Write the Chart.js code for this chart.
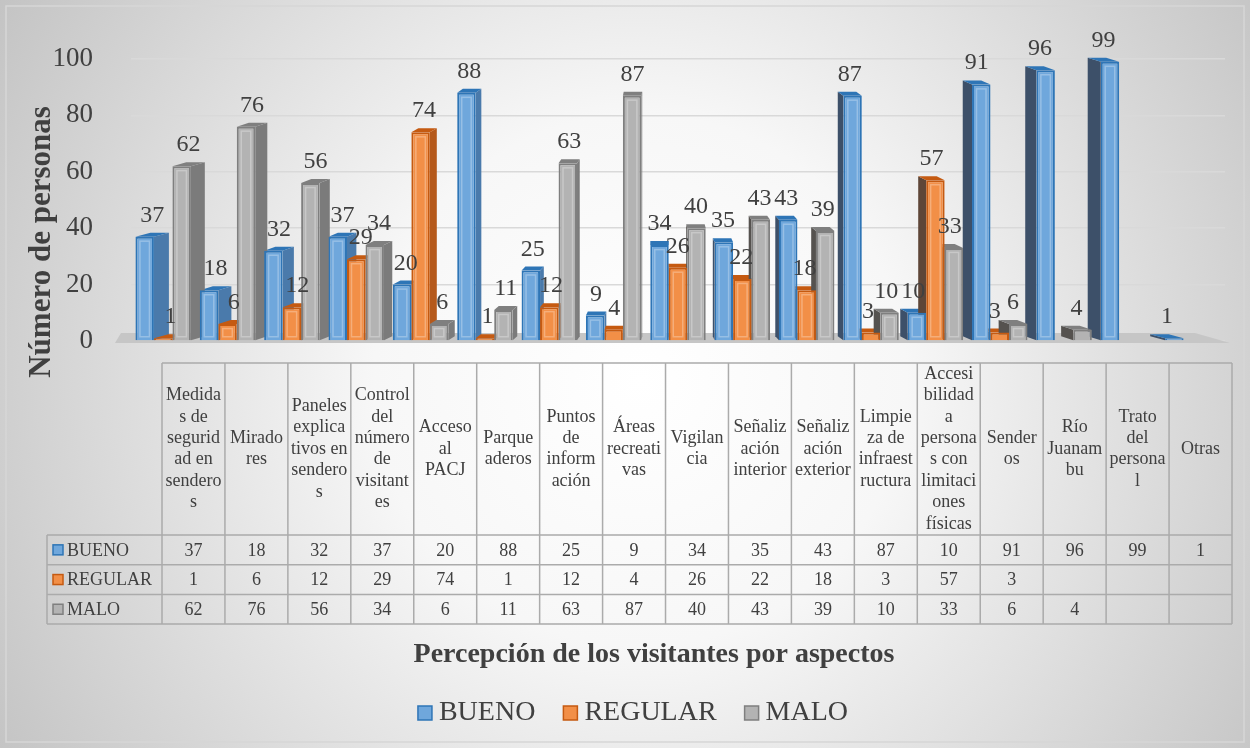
<!DOCTYPE html>
<html>
<head>
<meta charset="utf-8">
<title>Percepción de los visitantes</title>
<script src="https://cdn.jsdelivr.net/npm/chart.js@4"></script>
<style>
  body { margin: 0; background: #fff; }
  canvas { display: block; }
</style>
</head>
<body>
<canvas id="myChart" width="1250" height="748"></canvas>
<script>
// datos
const categorias = ['Medidas de seguridad en senderos', 'Miradores', 'Paneles explicativos en senderos',
  'Control del número de visitantes', 'Acceso al PACJ', 'Parqueaderos', 'Puntos de información',
  'Áreas recreativas', 'Vigilancia', 'Señalización interior', 'Señalización exterior',
  'Limpieza de infraestructura', 'Accesibilidad a personas con limitaciones físicas', 'Senderos',
  'Río Juanambu', 'Trato del personal', 'Otras'];
// como aparecen partidas en la tabla
const lineasEncabezado = [
  ['Medida', 's de', 'segurid', 'ad en', 'sendero', 's'],
  ['Mirado', 'res'],
  ['Paneles', 'explica', 'tivos en', 'sendero', 's'],
  ['Control', 'del', 'número', 'de', 'visitant', 'es'],
  ['Acceso', 'al', 'PACJ'],
  ['Parque', 'aderos'],
  ['Puntos', 'de', 'inform', 'ación'],
  ['Áreas', 'recreati', 'vas'],
  ['Vigilan', 'cia'],
  ['Señaliz', 'ación', 'interior'],
  ['Señaliz', 'ación', 'exterior'],
  ['Limpie', 'za de', 'infraest', 'ructura'],
  ['Accesi', 'bilidad', 'a', 'persona', 's con', 'limitaci', 'ones', 'físicas'],
  ['Sender', 'os'],
  ['Río', 'Juanam', 'bu'],
  ['Trato', 'del', 'persona', 'l'],
  ['Otras']
];
const bueno = [37, 18, 32, 37, 20, 88, 25, 9, 34, 35, 43, 87, 10, 91, 96, 99, 1];
const regular = [1, 6, 12, 29, 74, 1, 12, 4, 26, 22, 18, 3, 57, 3, null, null, null];
const malo = [62, 76, 56, 34, 6, 11, 63, 87, 40, 43, 39, 10, 33, 6, 4, null, null];
const series = ['BUENO', 'REGULAR', 'MALO'];
const yMax = 100;
const yPaso = 20;

const frente = ['#6fa7dc', '#f28f47', '#b3b3b3'];
const borde = ['#2e75b6', '#c55a11', '#7f7f7f'];
const ladoDer = ['#4a7aab', '#b5591b', '#7b7b7b'];
const ladoIzq = ['#3d5069', '#5e4638', '#55524f'];
const SERIF = '"Liberation Serif", "Times New Roman", serif';
const TEXTO = '#404040';

function profundidad(x) {
    return (661 - x) * 0.029;
}

const fondo = {
    id: 'fondo',
    beforeDraw(chart) {
        const ctx = chart.ctx;
        const g = ctx.createRadialGradient(640, 380, 0, 640, 380, 760);
        g.addColorStop(0, '#ffffff');
        g.addColorStop(0.35, '#f7f7f7');
        g.addColorStop(1, '#c2c2c2');
        ctx.save();
        ctx.fillStyle = g;
        ctx.fillRect(0, 0, chart.width, chart.height);
        ctx.strokeStyle = '#d6d6d6';
        ctx.lineWidth = 1.5;
        ctx.strokeRect(6, 6, chart.width - 12, chart.height - 12);
        ctx.restore();
    }
};

function poly(ctx, pts, color) {
    ctx.beginPath();
    ctx.moveTo(pts[0][0], pts[0][1]);
    for (let i = 1; i < pts.length; i++) ctx.lineTo(pts[i][0], pts[i][1]);
    ctx.closePath();
    ctx.fillStyle = color;
    ctx.fill();
}

// piso y caras laterales (detras de las caras frontales)
const volumen = {
    id: 'volumen',
    beforeDatasetsDraw(chart) {
        const ctx = chart.ctx;
        const a = chart.chartArea;
        const y0 = chart.scales.y.getPixelForValue(0);
        ctx.save();
        poly(ctx, [[a.left - 16, y0 + 2], [a.right + 5, y0 + 2], [a.right - 30, y0 - 8], [a.left - 10, y0 - 8]], '#c6c6c6');
        const t = 4;
        chart.data.datasets.forEach((ds, di) => {
            chart.getDatasetMeta(di).data.forEach((el, i) => {
                if (ds.data[i] == null) return;
                const x0 = el.x - el.width / 2, x1 = el.x + el.width / 2;
                const d = profundidad(el.x);
                const top = el.y, base = el.base;
                if (d > 0) {
                    poly(ctx, [[x1, top], [x1 + d, top - t], [x1 + d, base - t], [x1, base]], ladoDer[di]);
                } else {
                    poly(ctx, [[x0, top], [x0 + d, top - t], [x0 + d, base - t], [x0, base]], ladoIzq[di]);
                }
                poly(ctx, [[x0, top], [x1, top], [x1 + d, top - t], [x0 + d, top - t]], borde[di]);
            });
        });
        ctx.restore();
    },
    afterDatasetsDraw(chart) {
        const ctx = chart.ctx;
        ctx.save();
        // brillo interior de la cara frontal
        ctx.strokeStyle = 'rgba(255,255,255,0.28)';
        ctx.lineWidth = 1.5;
        chart.data.datasets.forEach((ds, di) => {
            chart.getDatasetMeta(di).data.forEach((el, i) => {
                if (ds.data[i] == null || el.base - el.y < 12) return;
                ctx.strokeRect(el.x - el.width / 2 + 4.5, el.y + 4.5, el.width - 9, el.base - el.y - 8);
            });
        });
        ctx.font = '24px ' + SERIF;
        ctx.fillStyle = TEXTO;
        ctx.textAlign = 'center';
        ctx.textBaseline = 'alphabetic';
        chart.data.datasets.forEach((ds, di) => {
            chart.getDatasetMeta(di).data.forEach((el, i) => {
                if (ds.data[i] == null) return;
                const d = profundidad(el.x);
                ctx.fillText(String(ds.data[i]), el.x + d / 2, el.y - 15);
            });
        });
        ctx.restore();
    }
};

function clave(ctx, x, y, s, di) {
    ctx.fillStyle = frente[di];
    ctx.fillRect(x, y, s, s);
    ctx.strokeStyle = borde[di];
    ctx.lineWidth = 1.5;
    ctx.strokeRect(x, y, s, s);
}

// tabla de datos, titulos y leyenda
const tabla = {
    id: 'tabla',
    afterDraw(chart) {
        const ctx = chart.ctx;
        const a = chart.chartArea;
        const n = categorias.length;
        const tx0 = a.left + 31, tx1 = a.right + 7, hx = 47;
        const cw = (tx1 - tx0) / n;
        const top = 363, hb = 535, rh = 29.7;
        const bottom = hb + rh * 3;
        ctx.save();
        ctx.strokeStyle = '#ababab';
        ctx.lineWidth = 1.5;
        ctx.beginPath();
        ctx.moveTo(tx0, top); ctx.lineTo(tx1, top);
        for (let r = 0; r <= 3; r++) {
            ctx.moveTo(hx, hb + r * rh); ctx.lineTo(tx1, hb + r * rh);
        }
        ctx.moveTo(hx, hb); ctx.lineTo(hx, bottom);
        for (let c = 0; c <= n; c++) {
            ctx.moveTo(tx0 + c * cw, top); ctx.lineTo(tx0 + c * cw, bottom);
        }
        ctx.stroke();

        ctx.fillStyle = TEXTO;
        ctx.font = '18px ' + SERIF;
        ctx.textAlign = 'center';
        ctx.textBaseline = 'middle';
        const lh = 21.4;
        lineasEncabezado.forEach((lines, c) => {
            const cx = tx0 + (c + 0.5) * cw;
            const y1 = (top + hb) / 2 - (lines.length - 1) * lh / 2;
            lines.forEach((s, k) => ctx.fillText(s, cx, y1 + k * lh));
        });
        chart.data.datasets.forEach((ds, di) => {
            const cy = hb + (di + 0.5) * rh;
            ds.data.forEach((v, c) => {
                if (v == null) return;
                ctx.fillStyle = TEXTO;
                ctx.fillText(String(v), tx0 + (c + 0.5) * cw, cy + 1);
            });
            clave(ctx, hx + 6, cy - 5, 10, di);
            ctx.fillStyle = TEXTO;
            ctx.textAlign = 'left';
            ctx.fillText(ds.label, hx + 20, cy + 1);
            ctx.textAlign = 'center';
        });

        // titulo del eje x
        ctx.font = 'bold 28px ' + SERIF;
        ctx.fillStyle = TEXTO;
        ctx.fillText('Percepción de los visitantes por aspectos', 654, 655);

        // titulo del eje y
        ctx.save();
        ctx.translate(42, 242);
        ctx.rotate(-Math.PI / 2);
        ctx.font = 'bold 31px ' + SERIF;
        ctx.fillText('Número de personas', 0, 0);
        ctx.restore();

        // leyenda
        ctx.font = '28px ' + SERIF;
        const anchos = chart.data.datasets.map(ds => 21 + ctx.measureText(ds.label).width);
        const gap = 28;
        let x = 633 - (anchos.reduce((s, w) => s + w, 0) + gap * (anchos.length - 1)) / 2;
        ctx.textAlign = 'left';
        chart.data.datasets.forEach((ds, di) => {
            clave(ctx, x, 706, 14, di);
            ctx.fillStyle = TEXTO;
            ctx.fillText(ds.label, x + 21, 713);
            x += anchos[di] + gap;
        });
        ctx.restore();
    }
};

const valores = [bueno, regular, malo];
new Chart(document.getElementById('myChart'), {
    type: 'bar',
    data: {
        labels: categorias,
        datasets: series.map((s, di) => ({
            label: s,
            data: valores[di],
            backgroundColor: frente[di],
            borderColor: borde[di],
            borderWidth: 2,
            categoryPercentage: 0.862,
            barPercentage: 1.0
        }))
    },
    options: {
        responsive: false,
        animation: false,
        devicePixelRatio: 1,
        layout: { padding: { top: 59, bottom: 407, right: 25, left: 0 } },
        plugins: {
            legend: { display: false },
            tooltip: { enabled: false }
        },
        scales: {
            x: { display: false },
            y: {
                min: 0,
                max: yMax,
                afterFit: s => { s.width = 131; },
                ticks: {
                    stepSize: yPaso,
                    padding: 38,
                    color: TEXTO,
                    font: { family: SERIF, size: 27 }
                },
                grid: { color: '#d9d9d9', lineWidth: 1.5, drawTicks: false },
                border: { display: false }
            }
        }
    },
    plugins: [fondo, volumen, tabla]
});
</script>
</body>
</html>
